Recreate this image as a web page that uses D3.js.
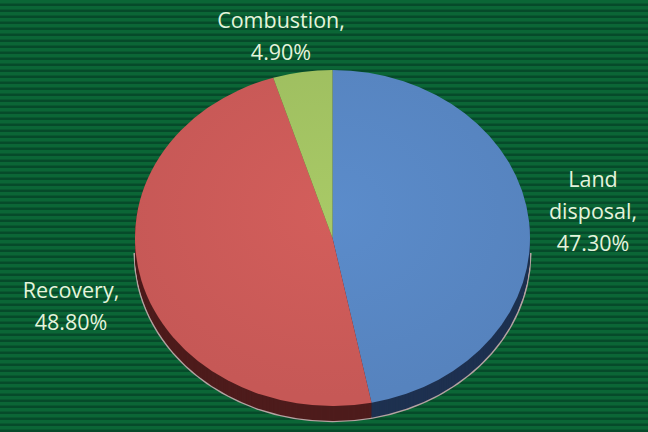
<!DOCTYPE html>
<html><head><meta charset="utf-8">
<script src="https://cdn.jsdelivr.net/npm/d3@7"></script>
<style>html,body{margin:0;padding:0;background:#0a5f33;}svg{display:block;}</style>
</head><body>
<svg id="c" width="648" height="432"></svg>
<script>
const categories = ["Land disposal", "Recovery", "Combustion"];
const values = [47.3, 48.8, 4.9];
const labels = [["Land", "disposal,", "47.30%"], ["Recovery,", "48.80%"], ["Combustion,", "4.90%"]];
const topColors = ["#5887c4", "#cc5b58", "#a2c262"];
const sideColors = ["#1e3150", "#4e1c1c", "#4a5a26"];

(function () {
const W = 648, H = 432;
const svg = d3.select("#c");
const defs = svg.append("defs");
const pat = defs.append("pattern").attr("id","stripe").attr("patternUnits","userSpaceOnUse")
  .attr("width", 8).attr("height", 6);
pat.append("rect").attr("width", 8).attr("height", 6).attr("fill", "#0b6636");
pat.append("rect").attr("y", 3.5).attr("width", 8).attr("height", 2.5).attr("fill", "#064a2a");
svg.append("rect").attr("width", W).attr("height", H).attr("fill", "url(#stripe)");

const cx = 332.5, cy = 238, rx = 197.5, ry = 168, depth = 15;
const sy = ry / rx;
const pie = d3.pie().sort(null).value(d => d)(values);
const arc = d3.arc().innerRadius(0).outerRadius(rx);

topColors.forEach((c, i) => {
  const g = defs.append("radialGradient").attr("id", "g" + i).attr("gradientUnits","userSpaceOnUse")
    .attr("cx", 0).attr("cy", -30).attr("r", rx * 1.1);
  g.append("stop").attr("offset", "0%").attr("stop-color", d3.color(c).brighter(0.1));
  g.append("stop").attr("offset", "100%").attr("stop-color", d3.color(c).darker(0.08));
});

// bottom rim with light specks
const rimG = svg.append("g").attr("transform", `translate(${cx},${cy + depth}) scale(1,${sy})`);
rimG.append("path")
  .attr("d", d3.arc().innerRadius(0).outerRadius(rx + 1.5)({startAngle: Math.PI * 0.5, endAngle: Math.PI * 1.5}))
  .attr("fill", "#b5a2a2");
for (let k = depth; k >= 1; k--) {
  const gg = svg.append("g").attr("transform", `translate(${cx},${cy + k}) scale(1,${sy})`);
  gg.selectAll("path").data(pie).join("path")
    .attr("d", arc)
    .attr("fill", (d, i) => sideColors[i]);
}
const topG = svg.append("g").attr("transform", `translate(${cx},${cy}) scale(1,${sy})`);
topG.selectAll("path").data(pie).join("path")
  .attr("d", arc)
  .attr("fill", (d, i) => `url(#g${i})`);

const labelPos = [[593, 187], [71, 298], [281, 28]];
const lh = 32;
labels.forEach((lines, i) => {
  const t = svg.append("text").attr("text-anchor", "middle")
    .attr("font-family", "'Open Sans', sans-serif").attr("font-size", 21.5)
    .attr("fill", "#e4f4dc");
  lines.forEach((s, j) => {
    t.append("tspan").attr("x", labelPos[i][0]).attr("y", labelPos[i][1] + j * lh).text(s);
  });
});
})();
</script>
</body></html>
